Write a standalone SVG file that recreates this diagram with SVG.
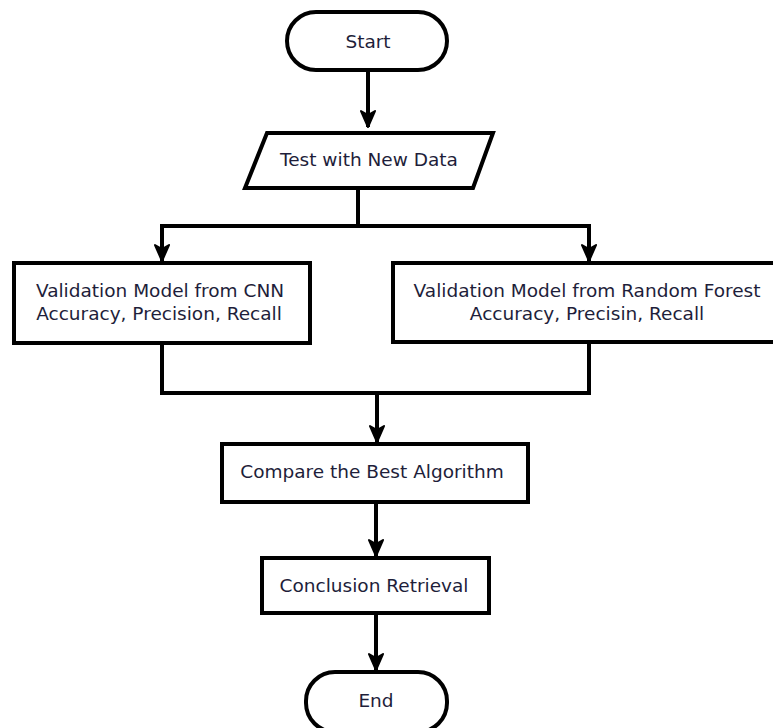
<svg xmlns="http://www.w3.org/2000/svg" width="773" height="728" viewBox="0 0 773 728">
<defs>
<style>
.s{fill:#fff;stroke:#000;stroke-width:4}
.c{fill:none;stroke:#000;stroke-width:4}
.t{font-family:"DejaVu Sans",Verdana,sans-serif;font-size:18.5px;fill:#1e1e3a;text-anchor:middle;dominant-baseline:central}
</style>
<marker id="ah" viewBox="-8 -14 16 16" refX="0" refY="0" markerWidth="16" markerHeight="16" markerUnits="userSpaceOnUse" orient="auto-start-reverse" overflow="visible">
<g transform="rotate(-90)">
<path d="M-7,-16 L0,0 L7,-16 L0,-12 Z" fill="#000" stroke="#000" stroke-width="2" stroke-linejoin="round"/>
</g>
</marker>
</defs>
<rect width="773" height="728" fill="#fff"/>
<g id="connectors">
<path class="c" d="M368,70 V127" marker-end="url(#ah)"/>
<path class="c" d="M358,188 V226 H162 V261" marker-end="url(#ah)"/>
<path class="c" d="M358,226 H589 V261" marker-end="url(#ah)"/>
<path class="c" d="M162,343 V393 H589 V343"/>
<path class="c" d="M377,393 V442" marker-end="url(#ah)"/>
<path class="c" d="M376,502 V556" marker-end="url(#ah)"/>
<path class="c" d="M376,613 V670" marker-end="url(#ah)"/>
</g>
<g id="start">
<rect class="s" x="287" y="12" width="160" height="58" rx="29" ry="29"/>
<text class="t" x="368" y="41">Start</text>
</g>
<g id="test">
<polygon class="s" points="267,133 493,133 473,188 245,188"/>
<text class="t" x="369" y="159">Test with New Data</text>
</g>
<g id="cnn">
<rect class="s" x="14" y="263" width="296" height="80"/>
<text class="t" x="160" y="290">Validation Model from CNN</text>
<text class="t" x="159" y="313">Accuracy, Precision, Recall</text>
</g>
<g id="rf">
<rect class="s" x="393" y="263" width="392" height="79"/>
<text class="t" x="587" y="290">Validation Model from Random Forest</text>
<text class="t" x="587" y="313">Accuracy, Precisin, Recall</text>
</g>
<g id="compare">
<rect class="s" x="222" y="444" width="306" height="58"/>
<text class="t" x="372" y="471">Compare the Best Algorithm</text>
</g>
<g id="conclusion">
<rect class="s" x="262" y="558" width="227" height="55"/>
<text class="t" x="374" y="585">Conclusion Retrieval</text>
</g>
<g id="end">
<rect class="s" x="306" y="672" width="141" height="60" rx="29" ry="29"/>
<text class="t" x="376" y="700">End</text>
</g>
</svg>
